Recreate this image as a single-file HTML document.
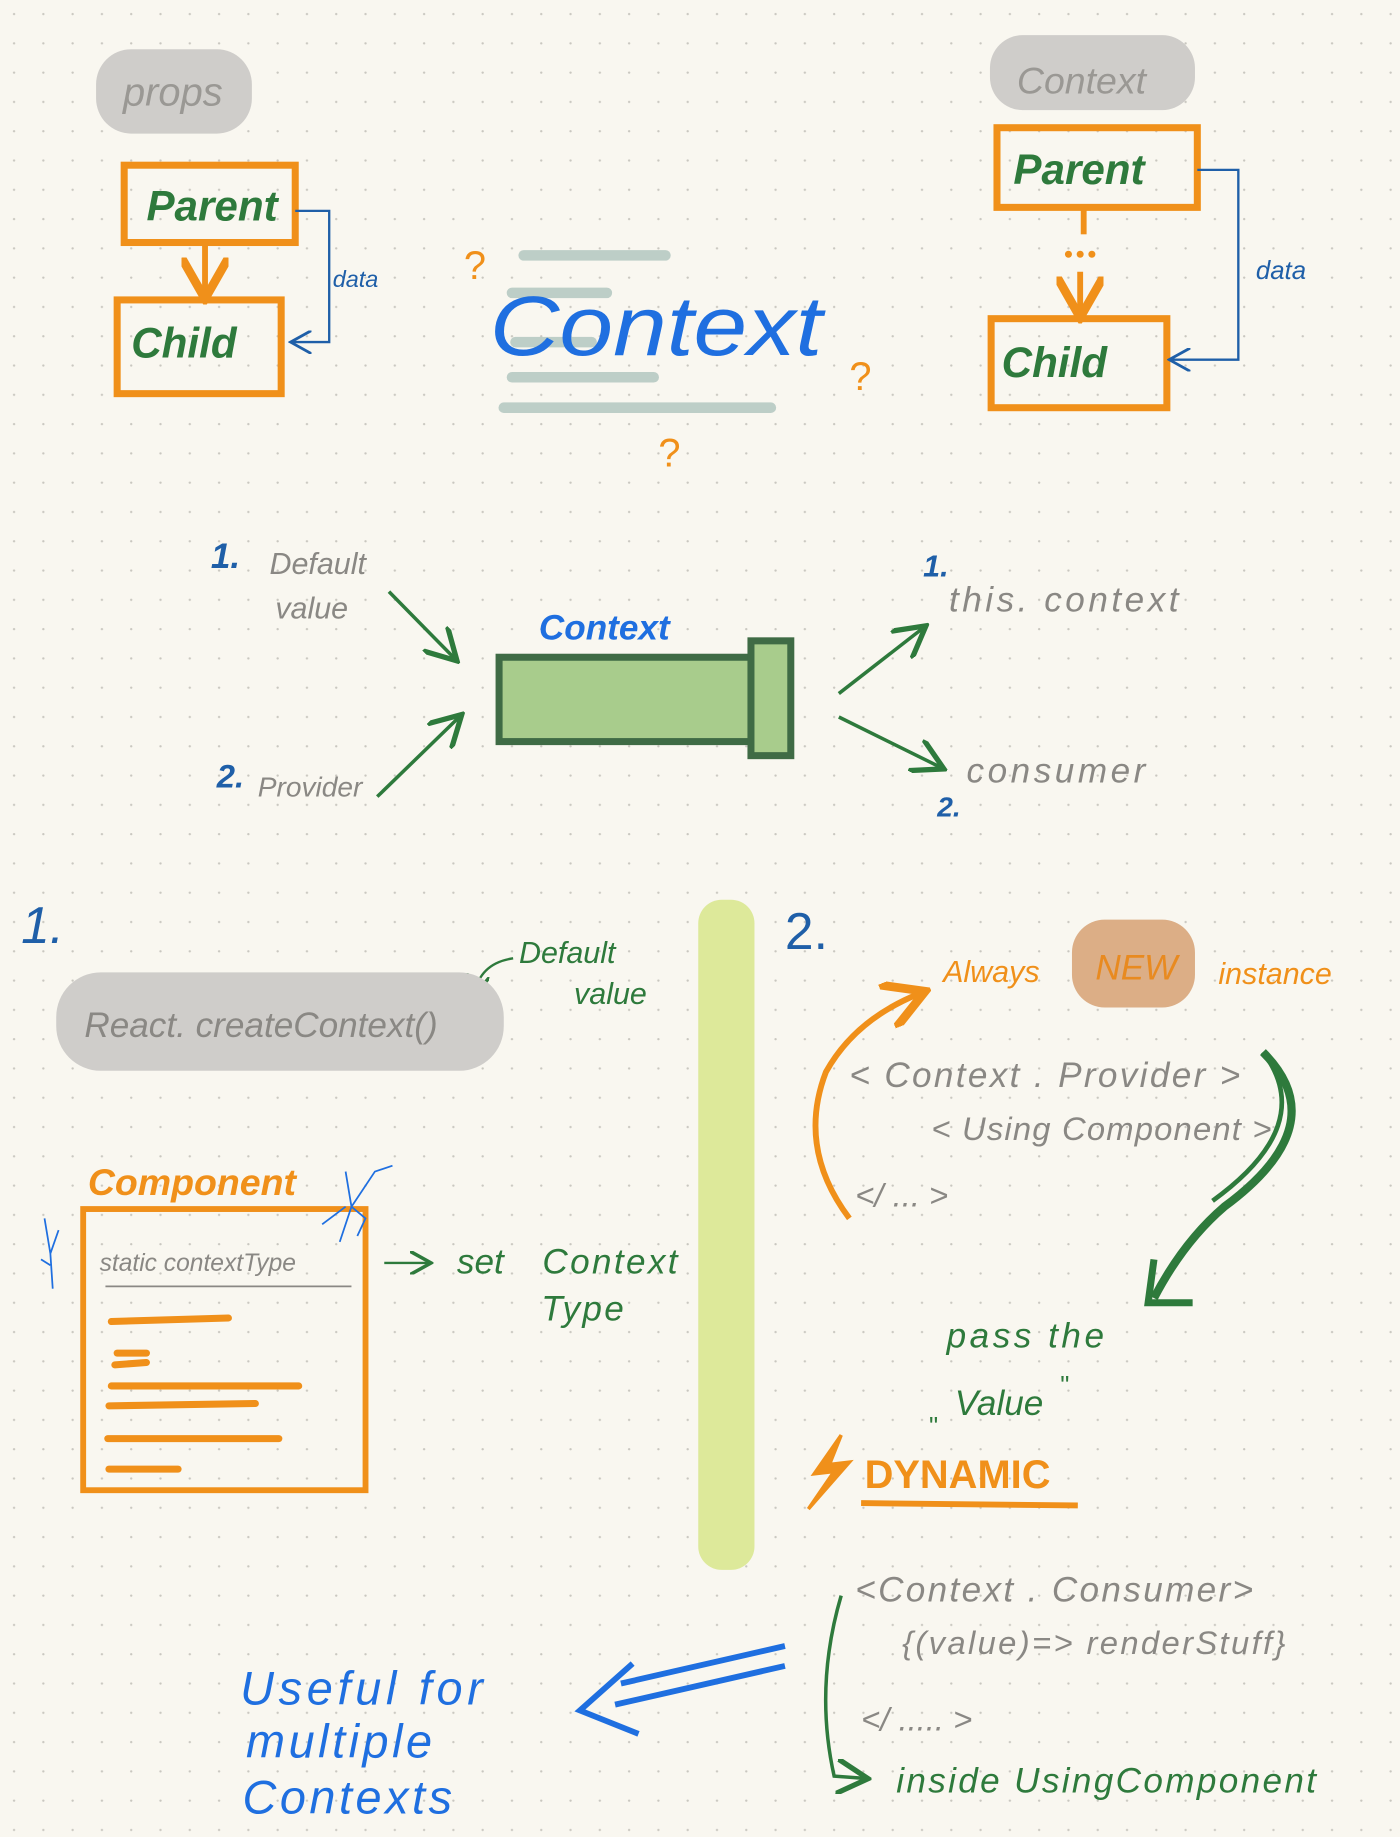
<!DOCTYPE html>
<html><head><meta charset="utf-8"><style>
html,body{margin:0;padding:0;background:#f9f7f0;}
svg{display:block}
text{font-family:"Liberation Sans",sans-serif;}
</style></head><body>
<svg width="1400" height="1837" viewBox="0 0 1195 1568" xmlns="http://www.w3.org/2000/svg">
<defs>
<pattern id="dots" width="25" height="25" patternUnits="userSpaceOnUse"><circle cx="12" cy="12" r="1" fill="#c9c7c0"/></pattern>
<marker id="ag" markerWidth="10" markerHeight="10" refX="8" refY="5" orient="auto"><path d="M0,0 L9,5 L0,10" fill="none" stroke="#2e7a3c" stroke-width="1.5"/></marker>
<marker id="ab" markerWidth="10" markerHeight="10" refX="8" refY="5" orient="auto"><path d="M0,0 L9,5 L0,10" fill="none" stroke="#1f5fa8" stroke-width="1.2"/></marker>
<marker id="ao" markerWidth="8" markerHeight="8" refX="6" refY="4" orient="auto"><path d="M0,0 L7,4 L0,8" fill="none" stroke="#f0901a" stroke-width="1.5"/></marker>
</defs>
<rect width="1195" height="1568" fill="#f9f7f0"/>
<rect width="1195" height="1568" fill="url(#dots)"/>

<!-- props -->
<rect x="82" y="42" width="133" height="72" rx="30" fill="#cfcdca"/>
<text x="105" y="90" font-size="34" fill="#9a9894" font-style="italic">props</text>
<rect x="106" y="141" width="146" height="66" fill="none" stroke="#f0901a" stroke-width="6"/>
<text x="125" y="188" font-size="36" fill="#2e7a3c" font-weight="bold" font-style="italic">Parent</text>
<line x1="175" y1="208" x2="175" y2="250" stroke="#f0901a" stroke-width="5" marker-end="url(#ao)"/>
<rect x="100" y="256" width="140" height="80" fill="none" stroke="#f0901a" stroke-width="6"/>
<text x="112" y="305" font-size="36" fill="#2e7a3c" font-weight="bold" font-style="italic">Child</text>
<path d="M252,180 L281,180 L281,292 L250,292" fill="none" stroke="#1f5fa8" stroke-width="2" marker-end="url(#ab)"/>
<text x="284" y="245" font-size="20" fill="#1f5fa8" font-style="italic">data</text>

<!-- center -->
<g stroke="#b3c7c1" stroke-width="9" stroke-linecap="round" opacity="0.85">
<line x1="447" y1="218" x2="568" y2="218"/><line x1="437" y1="250" x2="518" y2="250"/>
<line x1="440" y1="292" x2="505" y2="292"/><line x1="437" y1="322" x2="558" y2="322"/>
<line x1="430" y1="348" x2="658" y2="348"/></g>
<text x="418" y="303" font-size="80" fill="#1f6fe0" font-style="italic" transform="translate(418 303) scale(1.03 0.9) translate(-418 -303)">Context</text>
<text x="396" y="238" font-size="34" fill="#f0901a">?</text>
<text x="725" y="333" font-size="34" fill="#f0901a">?</text>
<text x="562" y="398" font-size="34" fill="#f0901a">?</text>

<!-- right top -->
<rect x="845" y="30" width="175" height="64" rx="28" fill="#cfcdca"/>
<text x="868" y="80" font-size="32" fill="#9a9894" font-style="italic">Context</text>
<rect x="851" y="109" width="171" height="68" fill="none" stroke="#f0901a" stroke-width="6"/>
<text x="865" y="157" font-size="36" fill="#2e7a3c" font-weight="bold" font-style="italic">Parent</text>
<line x1="925" y1="178" x2="925" y2="200" stroke="#f0901a" stroke-width="5"/>
<circle cx="912" cy="217" r="3" fill="#f0901a"/><circle cx="922" cy="217" r="3" fill="#f0901a"/><circle cx="932" cy="217" r="3" fill="#f0901a"/>
<line x1="922" y1="232" x2="922" y2="266" stroke="#f0901a" stroke-width="5" marker-end="url(#ao)"/>
<rect x="846" y="272" width="150" height="76" fill="none" stroke="#f0901a" stroke-width="6"/>
<text x="855" y="322" font-size="36" fill="#2e7a3c" font-weight="bold" font-style="italic">Child</text>
<path d="M1022,145 L1057,145 L1057,307 L1000,307" fill="none" stroke="#1f5fa8" stroke-width="2" marker-end="url(#ab)"/>
<text x="1072" y="238" font-size="22" fill="#1f5fa8" font-style="italic">data</text>

<!-- middle -->
<text x="180" y="485" font-size="30" fill="#1f5fa8" font-weight="bold" font-style="italic">1.</text>
<text x="230" y="490" font-size="26" fill="#8a8884" font-style="italic">Default</text>
<text x="235" y="528" font-size="26" fill="#8a8884" font-style="italic">value</text>
<line x1="332" y1="505" x2="388" y2="562" stroke="#2e7a3c" stroke-width="3" marker-end="url(#ag)"/>
<text x="185" y="672" font-size="28" fill="#1f5fa8" font-weight="bold" font-style="italic">2.</text>
<text x="220" y="680" font-size="24" fill="#8a8884" font-style="italic">Provider</text>
<line x1="322" y1="680" x2="392" y2="612" stroke="#2e7a3c" stroke-width="3" marker-end="url(#ag)"/>
<text x="460" y="546" font-size="30" fill="#1f6fe0" font-weight="bold" font-style="italic">Context</text>
<rect x="426" y="561" width="218" height="72" fill="#a8cc8c" stroke="#3f6b45" stroke-width="6"/>
<rect x="641" y="547" width="34" height="98" fill="#a8cc8c" stroke="#3f6b45" stroke-width="6"/>
<line x1="716" y1="592" x2="788" y2="536" stroke="#2e7a3c" stroke-width="3" marker-end="url(#ag)"/>
<line x1="716" y1="612" x2="803" y2="655" stroke="#2e7a3c" stroke-width="3" marker-end="url(#ag)"/>
<text x="788" y="492" font-size="26" fill="#1f5fa8" font-weight="bold" font-style="italic">1.</text>
<text x="810" y="522" font-size="30" fill="#8a8884" font-style="italic" letter-spacing="3">this. context</text>
<text x="825" y="668" font-size="30" fill="#8a8884" font-style="italic" letter-spacing="3">consumer</text>
<text x="800" y="697" font-size="24" fill="#1f5fa8" font-weight="bold" font-style="italic">2.</text>

<!-- bottom left -->
<text x="18" y="805" font-size="44" fill="#1f5fa8" font-style="italic">1.</text>
<rect x="596" y="768" width="48" height="572" rx="20" fill="#dde99a"/>
<text x="670" y="810" font-size="44" fill="#1f5fa8">2.</text>
<text x="443" y="822" font-size="26" fill="#2e7a3c" font-style="italic">Default</text>
<text x="490" y="857" font-size="26" fill="#2e7a3c" font-style="italic">value</text>
<path d="M438,818 Q410,822 405,848" fill="none" stroke="#2e7a3c" stroke-width="2" marker-end="url(#ag)"/>
<rect x="48" y="830" width="382" height="84" rx="38" fill="#cfcdca"/>
<text x="72" y="885" font-size="30" fill="#8a8884" font-style="italic">React. createContext()</text>
<text x="75" y="1020" font-size="32" fill="#f0901a" font-weight="bold" font-style="italic">Component</text>
<rect x="71" y="1032" width="241" height="240" fill="none" stroke="#f0901a" stroke-width="5"/>
<text x="85" y="1085" font-size="21" fill="#8a8884" font-style="italic">static   contextType</text>
<line x1="90" y1="1098" x2="300" y2="1098" stroke="#8a8884" stroke-width="1.5"/>
<g stroke="#f0901a" stroke-width="6" stroke-linecap="round">
<line x1="95" y1="1128" x2="195" y2="1125"/><line x1="100" y1="1155" x2="125" y2="1155"/>
<line x1="98" y1="1165" x2="125" y2="1163"/><line x1="95" y1="1183" x2="255" y2="1183"/>
<line x1="93" y1="1200" x2="218" y2="1198"/><line x1="92" y1="1228" x2="238" y2="1228"/>
<line x1="93" y1="1254" x2="152" y2="1254"/></g>
<path d="M290,1060 L300,1030 L295,1000 M300,1030 L320,1000 L335,995 M300,1030 L312,1040 L305,1055 M295,1030 L275,1045" fill="none" stroke="#1f6fe0" stroke-width="1.5"/>
<path d="M45,1100 L43,1070 L38,1040 M43,1070 L50,1050 M43,1080 L35,1075" fill="none" stroke="#1f6fe0" stroke-width="1.5"/>
<line x1="328" y1="1078" x2="366" y2="1078" stroke="#2e7a3c" stroke-width="2" marker-end="url(#ag)"/>
<text x="390" y="1087" font-size="30" fill="#2e7a3c" font-style="italic">set</text>
<text x="463" y="1087" font-size="30" fill="#2e7a3c" font-style="italic" letter-spacing="2">Context</text>
<text x="462" y="1127" font-size="30" fill="#2e7a3c" font-style="italic" letter-spacing="2">Type</text>

<!-- bottom right -->
<text x="805" y="838" font-size="26" fill="#f0901a" font-style="italic">Always</text>
<rect x="915" y="785" width="105" height="75" rx="28" fill="#dcae86"/>
<text x="935" y="836" font-size="30" fill="#e88a20" font-style="italic">NEW</text>
<text x="1040" y="840" font-size="26" fill="#f0901a" font-style="italic">instance</text>
<text x="725" y="928" font-size="30" fill="#8a8884" font-style="italic" letter-spacing="2">&lt; Context . Provider &gt;</text>
<text x="795" y="973" font-size="28" fill="#8a8884" font-style="italic" letter-spacing="1">&lt; Using  Component &gt;</text>
<text x="730" y="1030" font-size="28" fill="#8a8884" font-style="italic">&lt;/ ... &gt;</text>
<path d="M725,1040 Q680,980 705,915 Q730,870 785,848" fill="none" stroke="#f0901a" stroke-width="5" marker-end="url(#ao)"/>
<path d="M1078,898 Q1140,960 1045,1030 Q1010,1060 985,1108" fill="none" stroke="#2e7a3c" stroke-width="7"/>
<path d="M1078,898 Q1125,960 1035,1025" fill="none" stroke="#2e7a3c" stroke-width="4"/>
<path d="M985,1075 L980,1112 L1018,1112" fill="none" stroke="#2e7a3c" stroke-width="6"/>
<text x="808" y="1150" font-size="30" fill="#2e7a3c" font-style="italic" letter-spacing="3">pass    the</text>
<text x="815" y="1208" font-size="30" fill="#2e7a3c" font-style="italic">Value</text>
<text x="793" y="1225" font-size="22" fill="#2e7a3c">"</text>
<text x="905" y="1190" font-size="22" fill="#2e7a3c">"</text>
<path d="M718,1225 L695,1258 L712,1256 L690,1288 L725,1248 L708,1250 Z" fill="#f0901a" stroke="#f0901a" stroke-width="3"/>
<text x="738" y="1270" font-size="34" fill="#f0901a" font-weight="bold">DYNAMIC</text>
<line x1="735" y1="1283" x2="920" y2="1285" stroke="#f0901a" stroke-width="5"/>
<text x="730" y="1367" font-size="30" fill="#8a8884" font-style="italic" letter-spacing="2">&lt;Context . Consumer&gt;</text>
<text x="770" y="1412" font-size="28" fill="#8a8884" font-style="italic" letter-spacing="2">{(value)=&gt;  renderStuff}</text>
<text x="735" y="1477" font-size="28" fill="#8a8884" font-style="italic">&lt;/ ..... &gt;</text>
<path d="M718,1362 Q695,1440 712,1516 L738,1518" fill="none" stroke="#2e7a3c" stroke-width="3" marker-end="url(#ag)"/>
<text x="765" y="1530" font-size="30" fill="#2e7a3c" font-style="italic" letter-spacing="2">inside   UsingComponent</text>
<path d="M670,1405 L530,1437 M670,1422 L525,1455 M540,1420 L495,1460 L545,1480" fill="none" stroke="#1f6fe0" stroke-width="5"/>
<text x="205" y="1455" font-size="40" fill="#1f6fe0" font-style="italic" letter-spacing="4">Useful  for</text>
<text x="210" y="1500" font-size="40" fill="#1f6fe0" font-style="italic" letter-spacing="3">multiple</text>
<text x="207" y="1548" font-size="40" fill="#1f6fe0" font-style="italic" letter-spacing="3">Contexts</text>
</svg>
</body></html>
